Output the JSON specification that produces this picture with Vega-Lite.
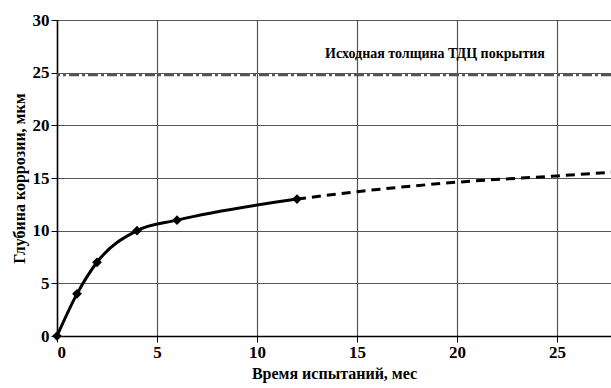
{
  "$schema": "https://vega.github.io/schema/vega-lite/v6.json",
  "autosize": {"type": "none"},
  "width": 554,
  "height": 316,
  "padding": {"left": 57, "top": 20, "right": 0, "bottom": 52},
  "background": "white",
  "config": {
    "view": {"stroke": null},
    "axis": {
      "domainColor": "black",
      "domainWidth": 1.5,
      "tickColor": "black",
      "tickSize": 6,
      "gridColor": "#555",
      "gridWidth": 1.2,
      "gridOpacity": 1
    }
  },
  "datasets": {
    "measured": [
      {"t": 0, "d": 0},
      {"t": 1, "d": 4},
      {"t": 2, "d": 7},
      {"t": 4, "d": 10},
      {"t": 6, "d": 11},
      {"t": 12, "d": 13}
    ],
    "forecast": [
      {"t": 12, "d": 13},
      {"t": 15, "d": 13.7},
      {"t": 20, "d": 14.6},
      {"t": 25, "d": 15.2},
      {"t": 27.7, "d": 15.55}
    ],
    "thickness": [{"d": 24.8, "label": "Исходная толщина ТДЦ покрытия", "t": 18.9, "ty": 26.8}]
  },
  "layer": [
    {
      "data": {"name": "thickness"},
      "mark": {"type": "rule", "color": "#555", "strokeWidth": 3, "strokeDash": [10, 3, 3, 3]},
      "encoding": {"y": {"field": "d", "type": "quantitative"}}
    },
    {
      "data": {"name": "thickness"},
      "mark": {"type": "text", "font": "Liberation Serif", "fontSize": 14, "fontWeight": "bold", "align": "center", "baseline": "middle", "color": "black"},
      "encoding": {
        "x": {"field": "t", "type": "quantitative"},
        "y": {"field": "ty", "type": "quantitative"},
        "text": {"field": "label"}
      }
    },
    {
      "data": {"name": "forecast"},
      "mark": {"type": "line", "color": "black", "strokeWidth": 3, "strokeDash": [9, 6], "interpolate": "monotone", "clip": true},
      "encoding": {
        "x": {"field": "t", "type": "quantitative"},
        "y": {"field": "d", "type": "quantitative"}
      }
    },
    {
      "data": {"name": "measured"},
      "mark": {"type": "line", "color": "black", "strokeWidth": 3, "interpolate": "monotone"},
      "encoding": {
        "x": {
          "field": "t", "type": "quantitative",
          "scale": {"domain": [0, 27.7], "nice": false, "zero": true},
          "axis": {
            "values": [0, 5, 10, 15, 20, 25], "title": "Время испытаний, мес", "titlePadding": 5, "labelPadding": 2,
            "labelFont": "Liberation Serif", "titleFont": "Liberation Serif",
            "labelFontSize": 17, "titleFontSize": 16, "labelFontWeight": "bold", "titleFontWeight": "bold",
            "labelColor": "black", "titleColor": "black"
          }
        },
        "y": {
          "field": "d", "type": "quantitative",
          "scale": {"domain": [0, 30], "nice": false},
          "axis": {
            "values": [0, 5, 10, 15, 20, 25, 30], "title": "Глубина коррозии, мкм", "titlePadding": 5, "labelPadding": 2,
            "labelFont": "Liberation Serif", "titleFont": "Liberation Serif",
            "labelFontSize": 17, "titleFontSize": 16, "labelFontWeight": "bold", "titleFontWeight": "bold",
            "labelColor": "black", "titleColor": "black"
          }
        }
      }
    },
    {
      "data": {"name": "measured"},
      "mark": {"type": "point", "shape": "diamond", "filled": true, "color": "black", "size": 95, "opacity": 1},
      "encoding": {
        "x": {"field": "t", "type": "quantitative"},
        "y": {"field": "d", "type": "quantitative"}
      }
    }
  ]
}
